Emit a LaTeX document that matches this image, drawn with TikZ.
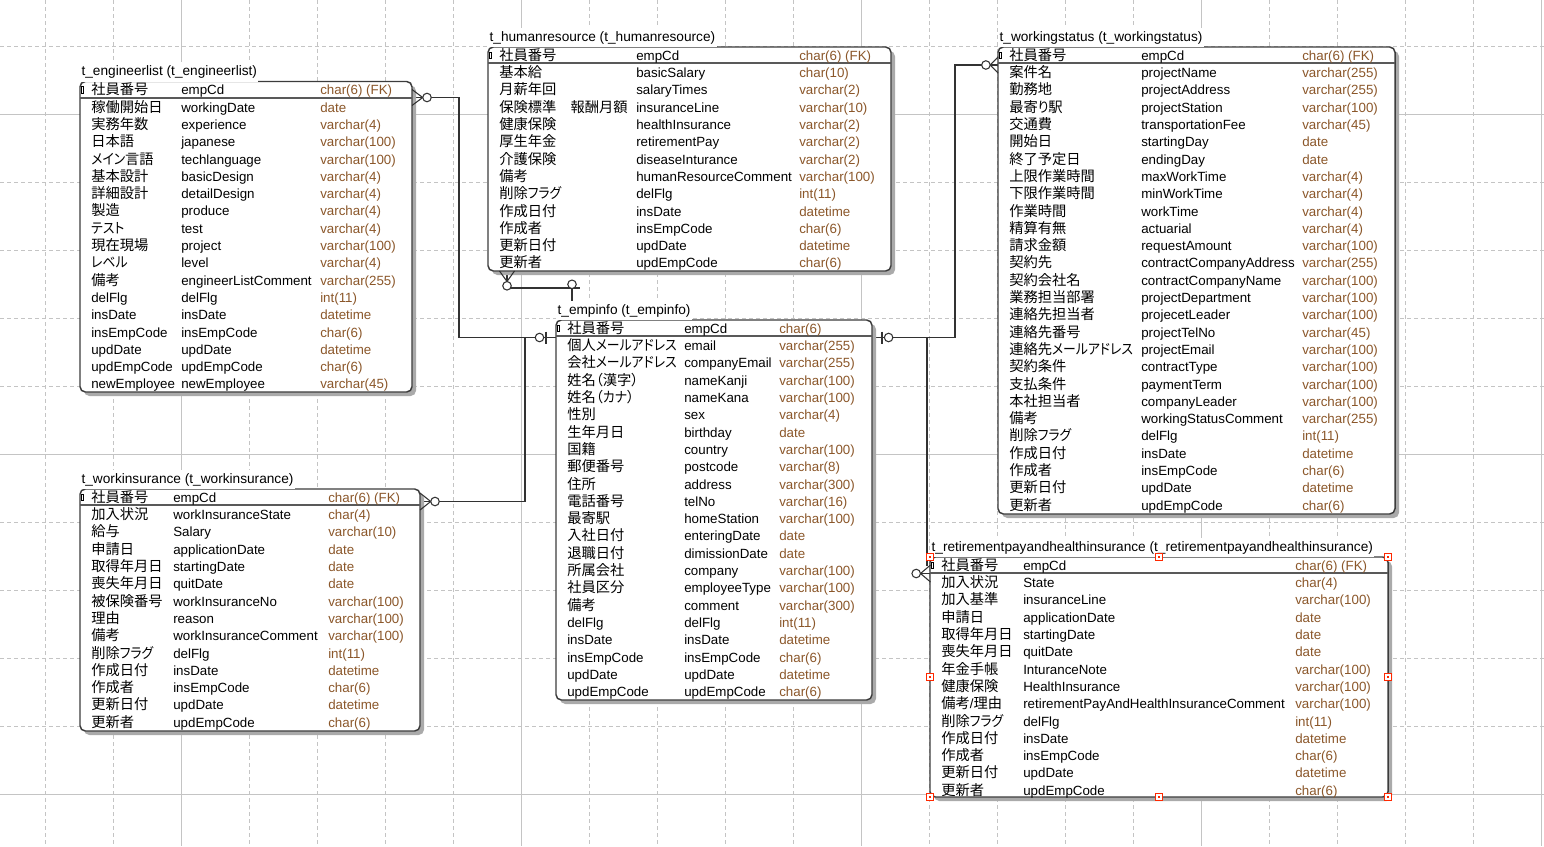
\documentclass[tikz,border=0pt]{standalone}
\usepackage{fontspec}
\setmainfont{Liberation Sans}
\newfontfamily\jpfam[RawFeature=+palt]{Noto Sans CJK JP}
\newfontfamily\kanafam[RawFeature=+palt, FakeStretch=0.9]{Noto Sans CJK JP}
\newcommand\jpsel{\jpfam\fontsize{10.7pt}{12pt}\selectfont}
\newcommand\kanasel{\kanafam\fontsize{10.7pt}{12pt}\selectfont}
% switch to the Japanese faces automatically for CJK characters
\XeTeXinterchartokenstate=1
\newXeTeXintercharclass\jpclass
\newXeTeXintercharclass\kanaclass
\newcount\cjkcode
\cjkcode="3000
\loop \XeTeXcharclass\cjkcode=\jpclass \advance\cjkcode by 1 \ifnum\cjkcode<"A000 \repeat
\cjkcode="FF00
\loop \XeTeXcharclass\cjkcode=\jpclass \advance\cjkcode by 1 \ifnum\cjkcode<"FFF0 \repeat
\cjkcode="3040
\loop \XeTeXcharclass\cjkcode=\kanaclass \advance\cjkcode by 1 \ifnum\cjkcode<"3100 \repeat
\XeTeXinterchartoks 0 \jpclass = {\begingroup\jpsel}
\XeTeXinterchartoks 4095 \jpclass = {\begingroup\jpsel}
\XeTeXinterchartoks \jpclass 0 = {\endgroup}
\XeTeXinterchartoks \jpclass 4095 = {\endgroup}
\XeTeXinterchartoks 0 \kanaclass = {\begingroup\kanasel}
\XeTeXinterchartoks 4095 \kanaclass = {\begingroup\kanasel}
\XeTeXinterchartoks \kanaclass 0 = {\endgroup}
\XeTeXinterchartoks \kanaclass 4095 = {\endgroup}
\XeTeXinterchartoks \jpclass \kanaclass = {\endgroup\begingroup\kanasel}
\XeTeXinterchartoks \kanaclass \jpclass = {\endgroup\begingroup\jpsel}

\definecolor{typebrown}{RGB}{139,87,42}
\definecolor{boxline}{RGB}{60,60,60}
\definecolor{shadowc}{RGB}{170,170,170}
\definecolor{gridc}{RGB}{196,196,196}
\definecolor{connc}{RGB}{50,50,50}
\definecolor{handlec}{RGB}{255,40,0}

\tikzset{
  entitybox/.style={draw=boxline, fill=white, line width=1.1pt, rounded corners=4pt,
    anchor=north west, inner sep=0pt, outer sep=0pt},
  shadowbox/.style={fill=shadowc, rounded corners=4pt, anchor=north west,
    inner sep=0pt, outer sep=0pt},
  sepline/.style={draw=boxline!85!white, line width=1.5pt},
  keyicon/.style={draw=black, line width=0.5pt},
  cell/.style={anchor=base west, inner sep=0pt, text=black},
  typecol/.style={text=typebrown},
  titletext/.style={anchor=base west, fill=white, inner xsep=1pt, inner ysep=2.5pt,
    text=black, font=\fontsize{10.25pt}{12pt}\selectfont},
  griddash/.style={draw=gridc, line width=0.75pt, dash pattern=on 3pt off 2.25pt},
  gridsolid/.style={draw=gridc, line width=0.75pt},
  conn/.style={draw=connc, line width=0.8pt},
  ring/.style={draw=connc, line width=0.8pt, fill=white},
  handle/.style={draw=handlec, line width=0.8pt, fill=white}
}

% entity frame: name, left, top, right, bottom, title
\newcommand\entity[6]{%
  \node[shadowbox, minimum width={(#4-#2)*0.75pt}, minimum height={(#5-#3)*0.75pt}]
    (#1-shadow) at (#2+4,#3+4) {};
  \node[entitybox, minimum width={(#4-#2)*0.75pt}, minimum height={(#5-#3)*0.75pt}]
    (#1) at (#2,#3) {};
  \draw[sepline] (#2,#3+16) -- (#4,#3+16);
  \draw[keyicon] (#2+1.4,#3+5) rectangle (#2+3.8,#3+11.6);
  \node[titletext] (#1-title) at (#2,#3-6) {#6};
}
% entity rows: name, top, logical x, physical x, type x, rows
\newcommand\entityrows[6]{%
  \foreach \lgc/\phc/\tyc [count=\i from 0] in {#6}{
    \pgfmathsetmacro\yy{#2+13.3+17.3*\i}
    \node[cell] (#1-l\i) at (#3,\yy) {\lgc};
    \node[cell] (#1-p\i) at (#4,\yy) {\phc};
    \node[cell, typecol] (#1-t\i) at (#5,\yy) {\tyc};
  }
}

\begin{document}
\begin{tikzpicture}[x=0.75pt, y=-0.75pt, font=\fontsize{10pt}{12pt}\selectfont]
\useasboundingbox (0,0) rectangle (1544,846);
\fill[white] (0,0) rectangle (1544,846);

% background grid
\foreach \k in {0,...,22}{
  \pgfmathtruncatemacro\gx{45+68*\k}
  \pgfmathtruncatemacro\m{mod(\k,5)}
  \ifnum\m=2 \draw[gridsolid] (\gx,0) -- (\gx,846);
  \else \draw[griddash] (\gx,0) -- (\gx,846); \fi
}
\foreach \k in {0,...,11}{
  \pgfmathtruncatemacro\gy{46+68*\k}
  \pgfmathtruncatemacro\m{mod(\k,5)}
  \ifnum\m=1 \draw[gridsolid] (0,\gy) -- (1544,\gy);
  \else \draw[griddash] (0,\gy) -- (1544,\gy); \fi
}

% relationship end points
\coordinate (eng-fk) at (412,97.5);
\coordinate (wins-fk) at (420,501.5);
\coordinate (hr-fk) at (507,271);
\coordinate (ws-fk) at (998,65);
\coordinate (ret-fk) at (930,573.5);
\coordinate (emp-w) at (556,337.5);
\coordinate (emp-e) at (872,337.5);
\coordinate (emp-n) at (572,320);
\coordinate (join-l) at (525,337.5);
\coordinate (join-r) at (955,337.5);
\coordinate (ret-top) at (927,566);

% relationship lines
\draw[conn] (eng-fk) -- (459,97.5) |- (emp-w);
\draw[conn] (wins-fk) -| (join-l);
\draw[conn] (hr-fk) |- (580,288);
\draw[conn] (572,288) -- (emp-n);
\draw[conn] (ws-fk) -| (join-r) -- (emp-e);
\draw[conn] (927,337.5) -- (ret-top);

% entities
\entity{eng}{80}{81.5}{412}{392}{t\_engineerlist (t\_engineerlist)}
\entityrows{eng}{81.5}{91}{181}{320}{
社員番号/empCd/char(6) (FK),
稼働開始日/workingDate/date,
実務年数/experience/varchar(4),
日本語/japanese/varchar(100),
メイン言語/techlanguage/varchar(100),
基本設計/basicDesign/varchar(4),
詳細設計/detailDesign/varchar(4),
製造/produce/varchar(4),
テスト/test/varchar(4),
現在現場/project/varchar(100),
レベル/level/varchar(4),
備考/engineerListComment/varchar(255),
delFlg/delFlg/int(11),
insDate/insDate/datetime,
insEmpCode/insEmpCode/char(6),
updDate/updDate/datetime,
updEmpCode/updEmpCode/char(6),
newEmployee/newEmployee/varchar(45)}

\entity{hr}{488}{47}{891}{271}{t\_humanresource (t\_humanresource)}
\entityrows{hr}{47}{499}{636}{799}{
社員番号/empCd/char(6) (FK),
基本給/basicSalary/char(10),
月薪年回/salaryTimes/varchar(2),
保険標準　報酬月額/insuranceLine/varchar(10),
健康保険/healthInsurance/varchar(2),
厚生年金/retirementPay/varchar(2),
介護保険/diseaseInturance/varchar(2),
備考/humanResourceComment/varchar(100),
削除フラグ/delFlg/int(11),
作成日付/insDate/datetime,
作成者/insEmpCode/char(6),
更新日付/updDate/datetime,
更新者/updEmpCode/char(6)}

\entity{emp}{556}{320}{872}{700}{t\_empinfo (t\_empinfo)}
\entityrows{emp}{320}{567}{684}{779}{
社員番号/empCd/char(6),
個人メールアドレス/email/varchar(255),
会社メールアドレス/companyEmail/varchar(255),
姓名（漢字）/nameKanji/varchar(100),
姓名（カナ）/nameKana/varchar(100),
性別/sex/varchar(4),
生年月日/birthday/date,
国籍/country/varchar(100),
郵便番号/postcode/varchar(8),
住所/address/varchar(300),
電話番号/telNo/varchar(16),
最寄駅/homeStation/varchar(100),
入社日付/enteringDate/date,
退職日付/dimissionDate/date,
所属会社/company/varchar(100),
社員区分/employeeType/varchar(100),
備考/comment/varchar(300),
delFlg/delFlg/int(11),
insDate/insDate/datetime,
insEmpCode/insEmpCode/char(6),
updDate/updDate/datetime,
updEmpCode/updEmpCode/char(6)}

\entity{wins}{80}{489}{420}{731}{t\_workinsurance (t\_workinsurance)}
\entityrows{wins}{489}{91}{173}{328}{
社員番号/empCd/char(6) (FK),
加入状況/workInsuranceState/char(4),
給与/Salary/varchar(10),
申請日/applicationDate/date,
取得年月日/startingDate/date,
喪失年月日/quitDate/date,
被保険番号/workInsuranceNo/varchar(100),
理由/reason/varchar(100),
備考/workInsuranceComment/varchar(100),
削除フラグ/delFlg/int(11),
作成日付/insDate/datetime,
作成者/insEmpCode/char(6),
更新日付/updDate/datetime,
更新者/updEmpCode/char(6)}

\entity{ws}{998}{47}{1395}{514}{t\_workingstatus (t\_workingstatus)}
\entityrows{ws}{47}{1009}{1141}{1302}{
社員番号/empCd/char(6) (FK),
案件名/projectName/varchar(255),
勤務地/projectAddress/varchar(255),
最寄り駅/projectStation/varchar(100),
交通費/transportationFee/varchar(45),
開始日/startingDay/date,
終了予定日/endingDay/date,
上限作業時間/maxWorkTime/varchar(4),
下限作業時間/minWorkTime/varchar(4),
作業時間/workTime/varchar(4),
精算有無/actuarial/varchar(4),
請求金額/requestAmount/varchar(100),
契約先/contractCompanyAddress/varchar(255),
契約会社名/contractCompanyName/varchar(100),
業務担当部署/projectDepartment/varchar(100),
連絡先担当者/projecetLeader/varchar(100),
連絡先番号/projectTelNo/varchar(45),
連絡先メールアドレス/projectEmail/varchar(100),
契約条件/contractType/varchar(100),
支払条件/paymentTerm/varchar(100),
本社担当者/companyLeader/varchar(100),
備考/workingStatusComment/varchar(255),
削除フラグ/delFlg/int(11),
作成日付/insDate/datetime,
作成者/insEmpCode/char(6),
更新日付/updDate/datetime,
更新者/updEmpCode/char(6)}

\entity{ret}{930}{557}{1388}{797}{t\_retirementpayandhealthinsurance (t\_retirementpayandhealthinsurance)}
\entityrows{ret}{557}{941}{1023}{1295}{
社員番号/empCd/char(6) (FK),
加入状況/State/char(4),
加入基準/insuranceLine/varchar(100),
申請日/applicationDate/date,
取得年月日/startingDate/date,
喪失年月日/quitDate/date,
年金手帳/InturanceNote/varchar(100),
健康保険/HealthInsurance/varchar(100),
{備考/理由}/retirementPayAndHealthInsuranceComment/varchar(100),
削除フラグ/delFlg/int(11),
作成日付/insDate/datetime,
作成者/insEmpCode/char(6),
更新日付/updDate/datetime,
更新者/updEmpCode/char(6)}

% many-side markers (crow's foot and ring)
\draw[conn] (412,89.5) -- (422.7,97.5) -- (412,105.5);
\draw[ring] (427,97.5) circle[radius=3.2pt];
\draw[conn] (420,493) -- (430.7,501.5) -- (420,510);
\draw[ring] (435,501.5) circle[radius=3.2pt];
\draw[conn] (499.5,271) -- (507,281.5) -- (514.5,271);
\draw[ring] (507,285.8) circle[radius=3.2pt];
\draw[conn] (998,57) -- (990.2,65) -- (998,73);
\draw[ring] (985.9,65) circle[radius=3.2pt];
\draw[conn] (930.5,565) -- (920.5,573.5) -- (930.5,582);
\draw[conn] (920.5,573.5) -- (ret-fk);
\draw[ring] (916.2,573.5) circle[radius=3.2pt];

% one-side markers on t_empinfo
\draw[ring] (572,284.3) circle[radius=3.2pt];
\draw[conn] (546,331.5) -- (546,343.5);
\draw[ring] (539.5,337.5) circle[radius=3.2pt];
\draw[conn] (882,331.5) -- (882,343.5);
\draw[ring] (888.6,337.5) circle[radius=3.2pt];

% selection handles
\foreach \hx/\hy in {930/557, 1159/557, 1388/557, 930/677, 1388/677, 930/797, 1159/797, 1388/797}{
  \draw[handle] (\hx-3.5,\hy-3.5) rectangle (\hx+3.5,\hy+3.5);
  \fill[handlec] (\hx-1.3,\hy-1.3) rectangle (\hx+1.3,\hy+1.3);
}
\end{tikzpicture}
\end{document}
